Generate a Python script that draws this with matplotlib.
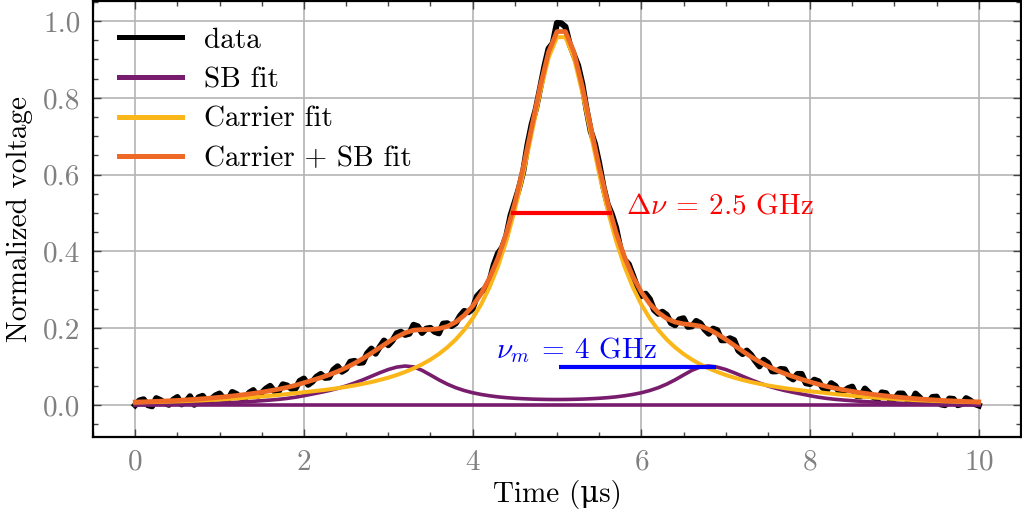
import numpy as np
import matplotlib
matplotlib.use("Agg")
import matplotlib.pyplot as plt
from matplotlib.ticker import MultipleLocator, FormatStrFormatter

# ---------------- data ----------------
time_data = np.linspace(0, 10, 201)
time_fit = np.linspace(0, 10, 101)

data_v = [0.000, 0.012, 0.015, 0.000, -0.003, 0.018, 0.013, 0.005, 0.001, 0.014,
          0.021, 0.002, 0.009, 0.023, 0.001, 0.020, 0.024, 0.010, 0.015, 0.025,
          0.030, 0.017, 0.014, 0.034, 0.029, 0.019, 0.017, 0.032, 0.039, 0.023,
          0.032, 0.043, 0.050, 0.036, 0.036, 0.054, 0.051, 0.043, 0.043, 0.063,
          0.069, 0.053, 0.061, 0.074, 0.081, 0.071, 0.072, 0.092, 0.101, 0.087,
          0.094, 0.113, 0.115, 0.110, 0.111, 0.135, 0.147, 0.134, 0.152, 0.168,
          0.156, 0.168, 0.187, 0.191, 0.183, 0.186, 0.209, 0.205, 0.188, 0.199,
          0.201, 0.191, 0.187, 0.212, 0.213, 0.206, 0.213, 0.232, 0.245, 0.242,
          0.251, 0.283, 0.295, 0.304, 0.322, 0.365, 0.395, 0.410, 0.441, 0.494,
          0.529, 0.565, 0.609, 0.677, 0.731, 0.771, 0.825, 0.881, 0.928, 0.942,
          0.995, 0.994, 0.985, 0.940, 0.912, 0.884, 0.836, 0.770, 0.713, 0.680,
          0.629, 0.569, 0.523, 0.497, 0.462, 0.409, 0.378, 0.367, 0.338, 0.308,
          0.284, 0.290, 0.276, 0.248, 0.238, 0.243, 0.235, 0.214, 0.208, 0.223,
          0.226, 0.204, 0.205, 0.219, 0.213, 0.197, 0.186, 0.199, 0.195, 0.169,
          0.169, 0.174, 0.169, 0.142, 0.133, 0.142, 0.131, 0.115, 0.101, 0.118,
          0.110, 0.088, 0.088, 0.094, 0.093, 0.074, 0.067, 0.081, 0.081, 0.057,
          0.055, 0.066, 0.062, 0.045, 0.039, 0.057, 0.050, 0.033, 0.036, 0.044,
          0.048, 0.024, 0.023, 0.043, 0.032, 0.021, 0.014, 0.033, 0.031, 0.013,
          0.016, 0.030, 0.030, 0.014, 0.007, 0.030, 0.020, 0.006, 0.007, 0.021,
          0.022, 0.002, 0.000, 0.017, 0.016, 0.000, 0.003, 0.018, 0.012, 0.003,
          -0.001]

sb_fit = [0.0010, 0.0012, 0.0015, 0.0018, 0.0021, 0.0025, 0.0030, 0.0035, 0.0041, 0.0048,
          0.0056, 0.0065, 0.0075, 0.0086, 0.0099, 0.0114, 0.0131, 0.0150, 0.0174, 0.0205,
          0.0245, 0.0288, 0.0332, 0.0379, 0.0435, 0.0499, 0.0575, 0.0659, 0.0751, 0.0843,
          0.0927, 0.0989, 0.1018, 0.0995, 0.0906, 0.0784, 0.0658, 0.0546, 0.0453, 0.0380,
          0.0322, 0.0278, 0.0243, 0.0215, 0.0194, 0.0178, 0.0166, 0.0157, 0.0151, 0.0147,
          0.0146, 0.0147, 0.0151, 0.0157, 0.0166, 0.0178, 0.0194, 0.0215, 0.0243, 0.0278,
          0.0322, 0.0380, 0.0453, 0.0546, 0.0658, 0.0784, 0.0906, 0.0995, 0.1018, 0.0989,
          0.0927, 0.0843, 0.0751, 0.0659, 0.0575, 0.0499, 0.0435, 0.0379, 0.0332, 0.0288,
          0.0245, 0.0205, 0.0174, 0.0150, 0.0131, 0.0114, 0.0099, 0.0086, 0.0075, 0.0065,
          0.0056, 0.0048, 0.0041, 0.0035, 0.0030, 0.0025, 0.0021, 0.0018, 0.0015, 0.0012,
          0.0010]

sb_base = [0.0] * 101

carrier_fit = [0.0070, 0.0074, 0.0079, 0.0085, 0.0091, 0.0098, 0.0106, 0.0115, 0.0125, 0.0136,
               0.0148, 0.0161, 0.0175, 0.0190, 0.0206, 0.0224, 0.0244, 0.0265, 0.0287, 0.0311,
               0.0337, 0.0359, 0.0384, 0.0411, 0.0441, 0.0475, 0.0512, 0.0554, 0.0601, 0.0655,
               0.0715, 0.0784, 0.0864, 0.0955, 0.1061, 0.1185, 0.1331, 0.1504, 0.1709, 0.1957,
               0.2256, 0.2620, 0.3066, 0.3611, 0.4278, 0.5081, 0.6024, 0.7074, 0.8138, 0.9045,
               0.9579, 0.9579, 0.9045, 0.8138, 0.7074, 0.6024, 0.5081, 0.4278, 0.3611, 0.3066,
               0.2620, 0.2256, 0.1957, 0.1709, 0.1504, 0.1331, 0.1185, 0.1061, 0.0955, 0.0864,
               0.0784, 0.0715, 0.0655, 0.0601, 0.0554, 0.0512, 0.0475, 0.0441, 0.0411, 0.0384,
               0.0359, 0.0337, 0.0311, 0.0287, 0.0265, 0.0244, 0.0224, 0.0206, 0.0190, 0.0175,
               0.0161, 0.0148, 0.0136, 0.0125, 0.0115, 0.0106, 0.0098, 0.0091, 0.0085, 0.0079,
               0.0074]

total_fit = [0.0080, 0.0086, 0.0094, 0.0103, 0.0112, 0.0123, 0.0136, 0.0150, 0.0166, 0.0184,
             0.0204, 0.0226, 0.0250, 0.0276, 0.0305, 0.0338, 0.0375, 0.0415, 0.0461, 0.0516,
             0.0582, 0.0647, 0.0716, 0.0790, 0.0876, 0.0974, 0.1087, 0.1213, 0.1352, 0.1498,
             0.1642, 0.1773, 0.1882, 0.1950, 0.1967, 0.1969, 0.1989, 0.2050, 0.2162, 0.2337,
             0.2578, 0.2898, 0.3309, 0.3826, 0.4472, 0.5259, 0.6190, 0.7231, 0.8289, 0.9192,
             0.9725, 0.9726, 0.9196, 0.8295, 0.7240, 0.6202, 0.5275, 0.4493, 0.3854, 0.3344,
             0.2942, 0.2636, 0.2410, 0.2255, 0.2162, 0.2115, 0.2091, 0.2056, 0.1973, 0.1853,
             0.1711, 0.1558, 0.1406, 0.1260, 0.1129, 0.1011, 0.0910, 0.0820, 0.0743, 0.0672,
             0.0604, 0.0542, 0.0485, 0.0437, 0.0396, 0.0358, 0.0323, 0.0292, 0.0265, 0.0240,
             0.0217, 0.0196, 0.0177, 0.0160, 0.0145, 0.0131, 0.0119, 0.0109, 0.0100, 0.0091,
             0.0084]

fwhm_x = [4.46, 5.65]
fwhm_y = [0.5, 0.5]
num_x = [5.02, 6.88]
num_y = [0.1, 0.1]

# ---------------- style ----------------
plt.rcParams['font.family'] = ['cmr10', 'DejaVu Serif']
plt.rcParams['mathtext.fontset'] = 'cm'
plt.rcParams['axes.formatter.use_mathtext'] = True
plt.rcParams['axes.unicode_minus'] = False

FS = 21
C_DATA = 'black'
C_SB = '#781c6d'
C_CAR = '#fbb61a'
C_TOT = '#ed6925'

fig = plt.figure(figsize=(10.22, 5.19), dpi=100)
ax = fig.add_axes([0.091, 0.158, 0.908, 0.840])

ax.plot(time_data, data_v, color=C_DATA, lw=4.4, solid_joinstyle='round', label='data', zorder=2)
ax.plot(time_fit, sb_base, color=C_SB, lw=2.6, zorder=3)
ax.plot(time_fit, sb_fit, color=C_SB, lw=2.6, label='SB fit', zorder=3)
ax.plot(time_fit, carrier_fit, color=C_CAR, lw=2.9, label='Carrier fit', zorder=4)
ax.plot(time_fit, total_fit, color=C_TOT, lw=3.4, label='Carrier + SB fit', zorder=5)

ax.plot(fwhm_x, fwhm_y, color='red', lw=3.0, solid_capstyle='butt', zorder=6)
ax.plot(num_x, num_y, color='blue', lw=3.0, solid_capstyle='butt', zorder=6)
ax.text(5.82, 0.5, r'$\Delta\nu\:=\:2.5$ GHz', color='red', fontsize=FS, ha='left', va='baseline')
ax.text(4.28, 0.123, r'$\nu_m\:=\:4$ GHz', color='blue', fontsize=FS, ha='left', va='baseline')

ax.set_xlim(-0.5, 10.5)
ax.set_ylim(-0.083, 1.052)
ax.xaxis.set_major_locator(MultipleLocator(2))
ax.xaxis.set_minor_locator(MultipleLocator(0.5))
ax.yaxis.set_major_locator(MultipleLocator(0.2))
ax.yaxis.set_minor_locator(MultipleLocator(0.05))
ax.yaxis.set_major_formatter(FormatStrFormatter('%.1f'))

ax.grid(True, which='major', color='#b4b4b4', lw=1.2, zorder=0)
ax.set_axisbelow(True)
ax.tick_params(which='both', direction='in', top=True, right=True, colors='#444444',
               labelcolor='#808080', labelsize=FS)
ax.tick_params(which='major', length=6, width=1.0, pad=9)
ax.tick_params(which='minor', length=3.5, width=1.0)
for s in ax.spines.values():
    s.set_linewidth(1.6)
    s.set_color('black')

ax.set_xlabel('Time (\u03bcs)', fontsize=FS, labelpad=3)
ax.set_ylabel('Normalized voltage', fontsize=FS, labelpad=7)

leg = ax.legend(loc='upper left', frameon=False, fontsize=FS, handlelength=2.15,
                handletextpad=0.75, labelspacing=0.45, borderaxespad=0.5,
                bbox_to_anchor=(0.0, 1.0))
for h in leg.get_lines():
    h.set_linewidth(3.6)

fig.savefig('out.png', dpi=100)
